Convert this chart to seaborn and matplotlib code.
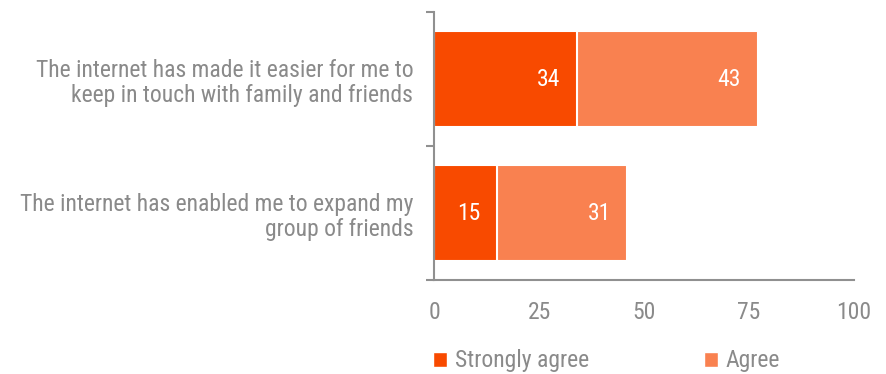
import numpy as np
import pandas as pd
import matplotlib
matplotlib.use("Agg")
import matplotlib.pyplot as plt
import seaborn as sns
from matplotlib.patches import Patch

statements = ["The internet has made it easier for me to\nkeep in touch with family and friends",
              "The internet has enabled me to expand my\ngroup of friends"]
strongly_agree = [34, 15]
agree = [43, 31]
x_ticks = [0, 25, 50, 75, 100]

dark_orange = "#F84A00"
light_orange = "#F98150"
grey = "#8A8A8A"

sns.set_style("white")
plt.rcParams['font.family'] = ['Roboto Condensed', 'Liberation Sans', 'DejaVu Sans']

df = pd.DataFrame({'statement': statements, 'Strongly agree': strongly_agree, 'Agree': agree})
df['total'] = df['Strongly agree'] + df['Agree']

fig = plt.figure(figsize=(8.86, 3.74), dpi=100)
ax = fig.add_axes([0.490, 0.251, 0.474, 0.717])

sns.barplot(data=df, y='statement', x='total', color=light_orange, orient='h', saturation=1,
            width=0.72, edgecolor='white', linewidth=1.5, ax=ax)
sns.barplot(data=df, y='statement', x='Strongly agree', color=dark_orange, orient='h', saturation=1,
            width=0.72, edgecolor='white', linewidth=1.5, ax=ax)

# data labels at the inner end of each segment
for i, row in df.iterrows():
    for val, end in [(row['Strongly agree'], row['Strongly agree']), (row['Agree'], row['total'])]:
        ax.annotate(str(val), xy=(end, i), xytext=(-12, 0), textcoords='offset points',
                    ha='right', va='center', color='white', fontsize=17)

ax.set_xlim(0, 100)
ax.set_ylim(1.5, -0.5)
ax.set_xticks(x_ticks)
ax.set_xlabel('')
ax.set_ylabel('')
ax.set_yticks([0, 1])
ax.set_yticklabels(statements)
ax.set_yticks([-0.5, 0.5, 1.5], minor=True)

for side in ['top', 'right']:
    ax.spines[side].set_visible(False)
for side in ['left', 'bottom']:
    ax.spines[side].set_color('#909090')
    ax.spines[side].set_linewidth(1.5)

ax.tick_params(axis='x', which='major', direction='out', length=5, width=1.5, color='#909090',
               labelsize=17, labelcolor=grey, pad=10)
ax.tick_params(axis='y', which='major', length=0, labelsize=17, labelcolor=grey, pad=15)
ax.tick_params(axis='y', which='minor', direction='out', length=6, width=1.5, color='#909090', left=True)
for lbl in ax.get_yticklabels():
    lbl.set_multialignment('right')
    lbl.set_linespacing(1.12)

handles = [Patch(facecolor=dark_orange, edgecolor='white'), Patch(facecolor=light_orange, edgecolor='white')]
fig.legend(handles, ['Strongly agree', 'Agree'], loc='center left', bbox_to_anchor=(0.489, 0.035),
           ncol=2, frameon=False, fontsize=17, labelcolor=grey, handlelength=0.6, handleheight=0.6,
           handletextpad=0.3, columnspacing=4.9, borderpad=0, borderaxespad=0)

fig.savefig('out.png', dpi=100)
